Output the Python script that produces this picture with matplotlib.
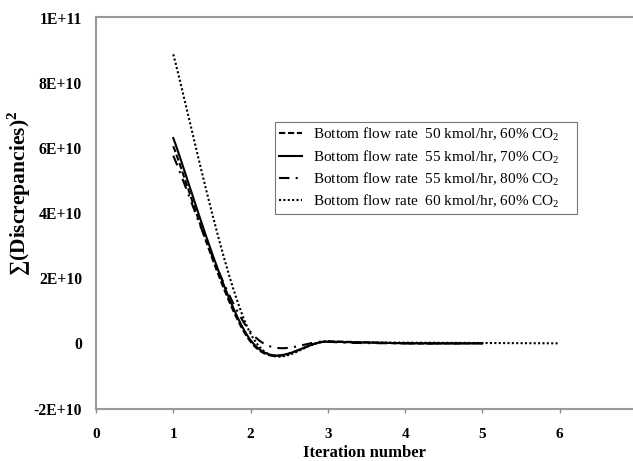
import numpy as np
import matplotlib
matplotlib.use("Agg")
import matplotlib.pyplot as plt

plt.rcParams['font.family'] = ['Liberation Serif', 'DejaVu Serif']
plt.rcParams['mathtext.fontset'] = 'custom'
plt.rcParams['mathtext.rm'] = 'Liberation Serif'
plt.rcParams['mathtext.bf'] = 'Liberation Serif:bold'

# data (points at whole iterations, Excel-style smoothed)
iter_short = [1, 2, 3, 4, 5]
iter_long = [1, 2, 3, 4, 5, 6]
flow50_co2_60 = [6.05e10, 0.05e10, 0.06e10, 0.0, 0.0]
flow55_co2_70 = [6.30e10, 0.10e10, 0.05e10, 0.0, 0.0]
flow55_co2_80 = [5.76e10, 0.35e10, 0.05e10, 0.0, 0.0]
flow60_co2_60 = [8.87e10, 0.30e10, 0.06e10, 0.02e10, 0.01e10, 0.0]

labels = ['Bottom flow rate  50 kmol/hr, 60% CO$_2$',
          'Bottom flow rate  55 kmol/hr, 70% CO$_2$',
          'Bottom flow rate  55 kmol/hr, 80% CO$_2$',
          'Bottom flow rate  60 kmol/hr, 60% CO$_2$']

yticks = [-2e10, 0, 2e10, 4e10, 6e10, 8e10, 1e11]
ytick_labels = ['-2E+10', '0', '2E+10', '4E+10', '6E+10', '8E+10', '1E+11']
xticks = [0, 1, 2, 3, 4, 5, 6]


def smooth(xs, ys, n=40):
    # bezier smoothing like the spreadsheet "smoothed line" option
    p = np.column_stack([xs, ys]).astype(float)
    pts = [p[0]]
    for i in range(len(p) - 1):
        p_prev = p[i - 1] if i > 0 else p[i]
        p_next = p[i + 2] if i + 2 < len(p) else p[i + 1]
        c1 = p[i] + (p[i + 1] - p_prev) / 6.0
        c2 = p[i + 1] - (p_next - p[i]) / 6.0
        t = np.linspace(0, 1, n)[1:, None]
        seg = ((1 - t) ** 3 * p[i] + 3 * (1 - t) ** 2 * t * c1
               + 3 * (1 - t) * t ** 2 * c2 + t ** 3 * p[i + 1])
        pts.extend(seg)
    pts = np.array(pts)
    return pts[:, 0], pts[:, 1]


fig = plt.figure(figsize=(6.33, 4.61), dpi=100)
ax = fig.add_axes([96 / 633, 52.5 / 461, 537 / 633, 391 / 461])

series = [(iter_short, flow50_co2_60, (0, (3, 1.3))),
          (iter_short, flow55_co2_70, '-'),
          (iter_short, flow55_co2_80, (0, (5, 3, 1, 3))),
          (iter_long, flow60_co2_60, (0, (1, 1.1)))]
for (xs, ys, ls), lab in zip(series, labels):
    sx, sy = smooth(xs, ys)
    ax.plot(sx, sy, color='black', lw=1.5, ls=ls, label=lab)

ax.set_xlim(0, 6.95)
ax.set_ylim(-2e10, 1e11)
ax.set_xticks(xticks)
ax.set_xticklabels([str(v) for v in xticks], fontsize=11, fontweight='bold')
ax.set_yticks(yticks)
ax.set_yticklabels(ytick_labels, fontsize=11.3, fontweight='bold')
ax.tick_params(axis='x', direction='out', length=3, width=1, color='#888888', pad=11)
ax.tick_params(axis='y', length=0, pad=10)

for side in ['left', 'bottom', 'top']:
    ax.spines[side].set_color('#999999')
    ax.spines[side].set_linewidth(1.5)
ax.spines['right'].set_visible(False)

ax.set_xlabel('Iteration number', fontsize=12, fontweight='bold', labelpad=3)
fig.text(19 / 633, 1 - 193 / 461, '\u2211(Discrepancies)$^\\mathbf{2}$',
         rotation=90, ha='center', va='center', fontsize=15.5, fontweight='bold')

leg = ax.legend(loc='upper left', bbox_to_anchor=(0.333, 0.733 - 0.3, 0.5624, 0.3),
                mode='expand', borderaxespad=0,
                fontsize=11, frameon=True, fancybox=False, handlelength=1.5,
                handletextpad=0.75, labelspacing=0.3, borderpad=0.25)
leg.get_frame().set_edgecolor('#555555')
leg.get_frame().set_linewidth(0.8)

fig.savefig('out.png', dpi=100)
